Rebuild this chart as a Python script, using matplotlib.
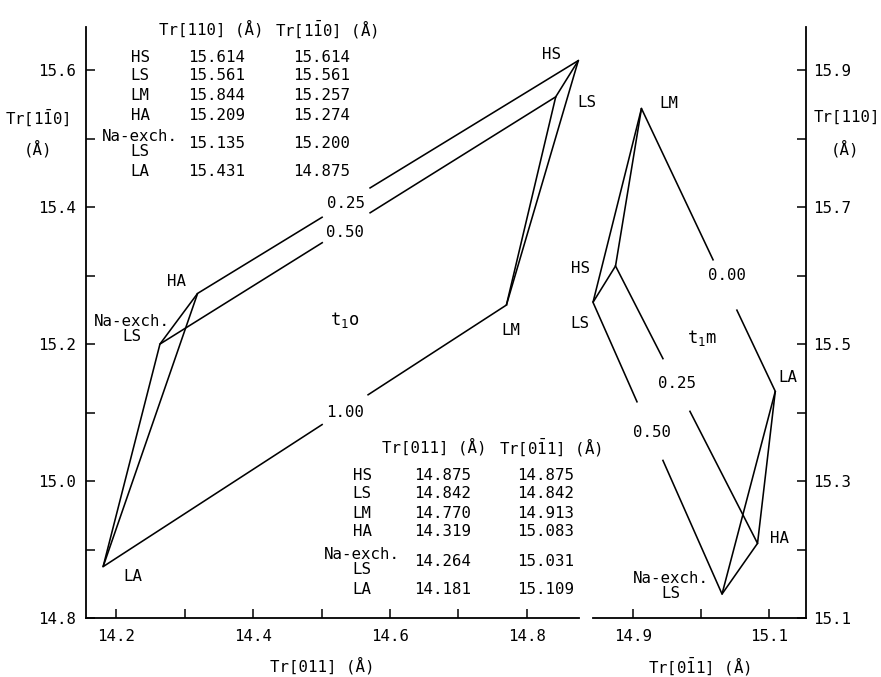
import matplotlib
matplotlib.use('Agg')
import matplotlib.pyplot as plt
import numpy as np

plt.rcParams['font.family'] = ['DejaVu Sans Mono', 'DejaVu Sans']
plt.rcParams['mathtext.fontset'] = 'custom'
plt.rcParams['mathtext.rm'] = 'DejaVu Sans Mono'
plt.rcParams['mathtext.it'] = 'DejaVu Sans Mono'
plt.rcParams['mathtext.bf'] = 'DejaVu Sans Mono:bold'

# ---------------- data ----------------
samples = ['HS', 'LS', 'LM', 'HA', 'Na-exch.\nLS', 'LA']
tr_011 = [14.875, 14.842, 14.770, 14.319, 14.264, 14.181]
tr_0b11 = [14.875, 14.842, 14.913, 15.083, 15.031, 15.109]
tr_110 = [15.614, 15.561, 15.844, 15.209, 15.135, 15.431]
tr_1b10 = [15.614, 15.561, 15.257, 15.274, 15.200, 14.875]

tab_top_vals1 = ['15.614', '15.561', '15.844', '15.209', '15.135', '15.431']
tab_top_vals2 = ['15.614', '15.561', '15.257', '15.274', '15.200', '14.875']
tab_bot_vals1 = ['14.875', '14.842', '14.770', '14.319', '14.264', '14.181']
tab_bot_vals2 = ['14.875', '14.842', '14.913', '15.083', '15.031', '15.109']

iHS, iLS, iLM, iHA, iNA, iLA = range(6)

# plain connecting lines
left_edges = [(iLA, iNA), (iLA, iHA), (iNA, iHA), (iHS, iLS), (iHS, iLM), (iLS, iLM)]
right_edges = [(iLS, iHS), (iHS, iLM), (iLS, iLM), (iLA, iHA), (iLA, iNA), (iNA, iHA)]
# labelled t1 lines: (start, end, label, gap_from, gap_to, label_pos, label offset px)
left_tlines = [(iHA, iHS, '0.25', 0.327, 0.453, 0.39, (0, -1)),
               (iNA, iLS, '0.50', 0.41, 0.531, 0.47, (-1, -5)),
               (iLA, iLM, '1.00', 0.543, 0.657, 0.60, (0, -3))]
right_tlines = [(iLM, iLA, '0.00', 0.535, 0.713, 0.62, (3, 8)),
                (iHS, iHA, '0.25', 0.334, 0.524, 0.433, (0, 3)),
                (iLS, iNA, '0.50', 0.341, 0.542, 0.455, (0, 3))]

# point-label offsets in pixels (dx, dy up)
left_lab_off = {iHS: (-27, 6), iLS: (31, -6), iLM: (4, -25), iHA: (-21, 12),
                iNA: (-28, 15), iLA: (30, -10)}
right_lab_off = {iHS: (-35, -2), iLS: (-13, -21), iLM: (27, 5), iHA: (22, 5),
                 iNA: (-51, 8), iLA: (13, 14)}

W, H = 881, 677
FS = 11.3
LW = 1.15

fig = plt.figure(figsize=(W / 100, H / 100), dpi=100)
axL = fig.add_axes([86 / W, 59 / H, 493 / W, 591 / H])
axR = fig.add_axes([593 / W, 59 / H, 213 / W, 591 / H])

axL.set_xlim(14.156, 14.876)
axL.set_ylim(14.8, 15.663)
axR.set_xlim(14.842, 15.154)
axR.set_ylim(15.1, 15.963)


def draw_panel(ax, xs, ys, edges, tlines, offs, tname, tpos):
    xs = np.asarray(xs)
    ys = np.asarray(ys)
    for a, b in edges:
        ax.plot([xs[a], xs[b]], [ys[a], ys[b]], color='black', lw=LW,
                solid_capstyle='butt', clip_on=False)
    for a, b, lab, g0, g1, lp, loff in tlines:
        def pt(f):
            return xs[a] + f * (xs[b] - xs[a]), ys[a] + f * (ys[b] - ys[a])
        p0 = pt(g0)
        p1 = pt(g1)
        ax.plot([xs[a], p0[0]], [ys[a], p0[1]], color='black', lw=LW, clip_on=False)
        ax.plot([p1[0], xs[b]], [p1[1], ys[b]], color='black', lw=LW, clip_on=False)
        ax.annotate(lab, pt(lp), xytext=loff, textcoords='offset pixels',
                    ha='center', va='center', fontsize=FS)
    for i, name in enumerate(samples):
        dx, dy = offs[i]
        ax.annotate(name, (xs[i], ys[i]), xytext=(dx, dy), textcoords='offset pixels',
                    ha='center', va='center', fontsize=FS, linespacing=1.0)
    ax.text(tpos[0], tpos[1], tname, transform=ax.transAxes, ha='center',
            va='center', fontsize=FS + 1)


draw_panel(axL, tr_011, tr_1b10, left_edges, left_tlines, left_lab_off,
           r'$\mathrm{t_1o}$', (0.525, 0.504))
draw_panel(axR, tr_0b11, tr_110, right_edges, right_tlines, right_lab_off,
           r'$\mathrm{t_1m}$', (0.512, 0.474))

# spines and ticks
for ax in (axL, axR):
    ax.patch.set_alpha(0)
    ax.spines['top'].set_visible(False)
    for s in ax.spines.values():
        s.set_linewidth(1.3)
axL.spines['right'].set_visible(False)
axR.spines['left'].set_visible(False)

axL.set_xticks([14.2, 14.4, 14.6, 14.8])
axL.set_xticks([14.3, 14.5, 14.7], minor=True)
axL.set_yticks([14.8, 15.0, 15.2, 15.4, 15.6])
axL.set_yticks([14.9, 15.1, 15.3, 15.5], minor=True)
axR.set_xticks([14.9, 15.1])
axR.set_xticks([15.0], minor=True)
axR.set_yticks([15.1, 15.3, 15.5, 15.7, 15.9])
axR.set_yticks([15.2, 15.4, 15.6, 15.8], minor=True)
axR.yaxis.tick_right()

for ax in (axL, axR):
    ax.xaxis.set_major_formatter(matplotlib.ticker.FormatStrFormatter('%.1f'))
    ax.yaxis.set_major_formatter(matplotlib.ticker.FormatStrFormatter('%.1f'))
    ax.tick_params(which='both', direction='in', length=6.5, width=1.1,
                   labelsize=FS)
    ax.tick_params(axis='x', which='both', pad=8)
axL.tick_params(axis='y', which='both', pad=7, left=True, right=False)
axR.tick_params(axis='y', which='both', pad=5, left=False, right=True)


def ftext(x, y, s, **kw):
    kw.setdefault('fontsize', FS)
    kw.setdefault('ha', 'center')
    kw.setdefault('va', 'center')
    fig.text(x / W, 1 - y / H, s, **kw)


# axis titles
ftext(37, 118, r'Tr[1$\mathrm{\bar{1}}$0]')
ftext(38, 149, '(Å)')
ftext(847, 117, 'Tr[110]')
ftext(845, 149, '(Å)')
ftext(322, 666, 'Tr[011] (Å)')
ftext(700, 666, r'Tr[0$\mathrm{\bar{1}}$1] (Å)')

# tables
top_rows_y = [57, 76, 96, 115, 144, 172]
bot_rows_y = [475, 494, 513, 532, 562, 590]

ftext(211, 29, 'Tr[110] (Å)')
ftext(327, 29, r'Tr[1$\mathrm{\bar{1}}$0] (Å)')
for name, y, v1, v2 in zip(samples, top_rows_y, tab_top_vals1, tab_top_vals2):
    ftext(140, y, name, linespacing=1.0)
    ftext(217, y, v1)
    ftext(322, y, v2)

ftext(434, 447, 'Tr[011] (Å)')
ftext(551, 447, r'Tr[0$\mathrm{\bar{1}}$1] (Å)')
for name, y, v1, v2 in zip(samples, bot_rows_y, tab_bot_vals1, tab_bot_vals2):
    ftext(362, y, name, linespacing=1.0)
    ftext(443, y, v1)
    ftext(546, y, v2)

fig.savefig('out.png', dpi=100)
